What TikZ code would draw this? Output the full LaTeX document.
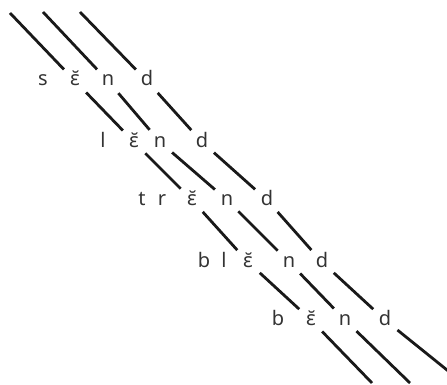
\documentclass[tikz,border=0pt]{standalone}
\usepackage{fontspec}
\setmainfont{Noto Sans}
\begin{document}
\begin{tikzpicture}[x=1pt,y=-1pt,
  seg/.style={draw=black!90, line width=2.8pt, shorten <=16pt, shorten >=16pt},
  segtop/.style={draw=black!90, line width=2.8pt, shorten >=16pt},
  segbot/.style={draw=black!90, line width=2.8pt, shorten <=16pt},
  ltr/.style={inner sep=0pt, text height=10pt, text depth=0pt, text=black!80,
    font=\fontsize{20}{22}\selectfont}]
\useasboundingbox (0,0) rectangle (447,385);
\clip (0,0) rectangle (447,385);
% top and bottom free ends
\coordinate (at) at (10,13);
\coordinate (bt) at (43,12);
\coordinate (ct) at (80,12);
\coordinate (ab) at (372,383);
\coordinate (bb) at (410,383);
\coordinate (cb) at (452,374);
% row 1
\node[ltr] (s1) at (43,81) {s};
\node[ltr] (e1) at (75,81) {ɛ̆};
\node[ltr] (n1) at (108,81) {n};
\node[ltr] (d1) at (147,81) {d};
% row 2
\node[ltr] (l2) at (103,142) {l};
\node[ltr] (e2) at (134,142) {ɛ̆};
\node[ltr] (n2) at (160,142) {n};
\node[ltr] (d2) at (202,142) {d};
% row 3
\node[ltr] (t3) at (142,200) {t};
\node[ltr] (r3) at (162,200) {r};
\node[ltr] (e3) at (192,200) {ɛ̆};
\node[ltr] (n3) at (227,200) {n};
\node[ltr] (d3) at (267,200) {d};
% row 4
\node[ltr] (b4) at (204,262) {b};
\node[ltr] (l4) at (224,262) {l};
\node[ltr] (e4) at (248,262) {ɛ̆};
\node[ltr] (n4) at (289,262) {n};
\node[ltr] (d4) at (322,262) {d};
% row 5
\node[ltr] (b5) at (278,320) {b};
\node[ltr] (e5) at (311,320) {ɛ̆};
\node[ltr] (n5) at (345,320) {n};
\node[ltr] (d5) at (385,320) {d};
% lines
\draw[segtop] (at) -- (e1.center);
\draw[segtop] (bt) -- (n1.center);
\draw[segtop] (ct) -- (d1.center);
\draw[seg] (e1.center) -- (e2.center);
\draw[seg] (n1.center) -- (n2.center);
\draw[seg] (d1.center) -- (d2.center);
\draw[seg] (e2.center) -- (e3.center);
\draw[seg] (n2.center) -- (n3.center);
\draw[seg] (d2.center) -- (d3.center);
\draw[seg] (e3.center) -- (e4.center);
\draw[seg] (n3.center) -- (n4.center);
\draw[seg] (d3.center) -- (d4.center);
\draw[seg] (e4.center) -- (e5.center);
\draw[seg] (n4.center) -- (n5.center);
\draw[seg] (d4.center) -- (d5.center);
\draw[segbot] (e5.center) -- (ab);
\draw[segbot] (n5.center) -- (bb);
\draw[segbot] (d5.center) -- (cb);
\end{tikzpicture}
\end{document}
